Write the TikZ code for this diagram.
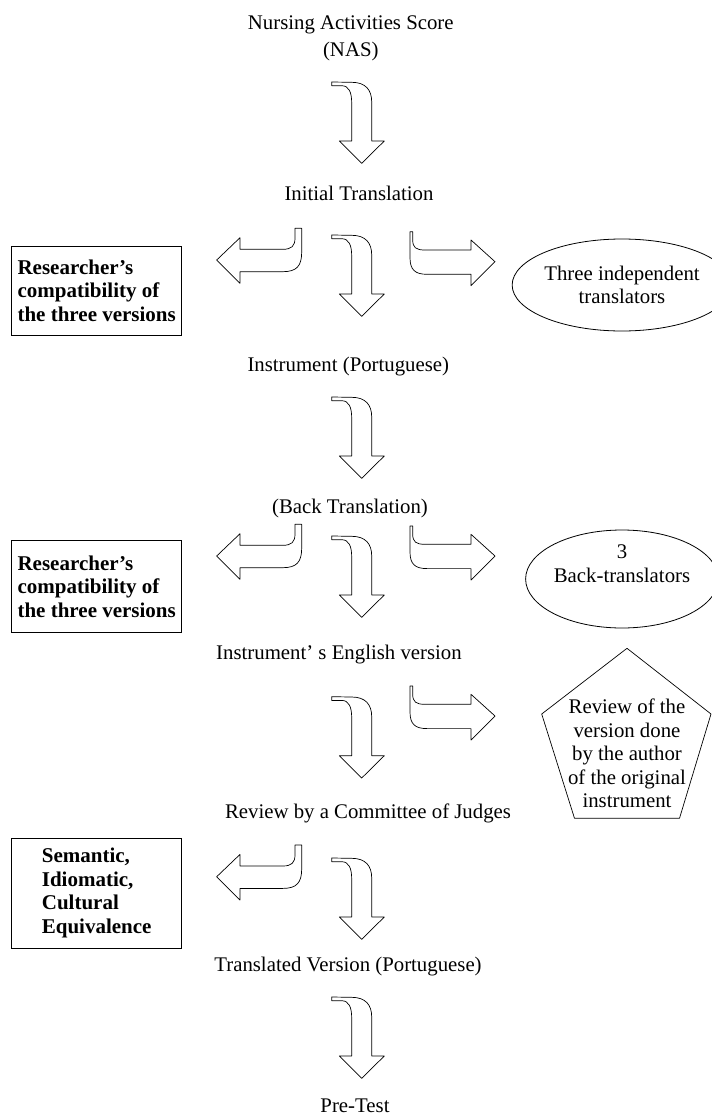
\documentclass[tikz,border=0pt]{standalone}
\usepackage{fontspec}
\setmainfont{Liberation Serif}
\usetikzlibrary{shapes.geometric}
\begin{document}
\begin{tikzpicture}[x=1pt,y=-1pt,
  every node/.style={font=\fontsize{20.8}{23.5}\selectfont, inner sep=0pt},
  lbl/.style={align=center},
  sidebox/.style={draw, line width=0.8pt, minimum width=170pt, align=left, font=\fontsize{21}{23.4}\selectfont\bfseries},
  oval/.style={draw, ellipse, line width=0.8pt, align=center, minimum width=178pt},
  arr/.style={draw, line width=0.7pt, line join=round},
  downarr/.pic={\path[arr] (0,0) -- (20,0.3) .. controls (34,0.3) and (40,8) .. (40,20) -- (40,59) -- (52.6,59) -- (30,81.3) -- (7.6,59) -- (20,59) -- (20,21) .. controls (20,10) and (17,3.7) .. (10,3.7) -- (0,3.7) -- cycle;},
  leftarr/.pic={\path[arr] (0,0) -- (23.3,-22.3) -- (23.3,-10.7) -- (66,-10.7) .. controls (75,-10.7) and (78.3,-14) .. (78.3,-22) -- (78.3,-31.7) -- (85,-31.7) -- (85,-8) .. controls (85,6) and (80,11.7) .. (66,11.7) -- (23.3,11.7) -- (23.3,23.3) -- cycle;},
  rightarr/.pic={\path[arr] (0,0) -- (-24,-21.7) -- (-24,-11.7) -- (-70,-11.7) .. controls (-79,-11.7) and (-82.3,-14) .. (-82.3,-22) -- (-82.3,-30) -- (-85,-30) -- (-85,-4) .. controls (-85,8) and (-80,12.6) .. (-68,12.6) -- (-24,12.6) -- (-24,24) -- cycle;}
]
\useasboundingbox (0,0) rectangle (712,1119);

% main flow texts
\node[lbl, font=\fontsize{20.8}{26.7}\selectfont] (nas) at (350.8,38.3) {Nursing Activities Score\\(NAS)};
\node (init) at (359,193) {Initial Translation};
\node (instr) at (348.3,366.7) {Instrument (Portuguese)};
\node (back) at (350,508) {(Back Translation)};
\node (eng) at (339,655) {Instrument’ s English version};
\node (review) at (368,813) {Review by a Committee of Judges};
\node (transl) at (348,967) {Translated Version (Portuguese)};
\node (pretest) at (355,1106) {Pre-Test};

% side boxes
\node[sidebox, minimum height=89pt] (box1) at (96.7,290.5) {Researcher’s\\compatibility of\\the three versions};
\node[sidebox, minimum height=92pt] (box2) at (96.7,586.5) {Researcher’s\\compatibility of\\the three versions};
\node[sidebox, minimum height=110pt] (box3) at (96.7,893) {Semantic,\\Idiomatic,\\Cultural\\Equivalence};

% ellipses
\node[oval, minimum height=92pt] (ell1) at (622,285) {Three independent\\translators};
\node[oval, minimum height=98pt] (ell2) at (622,579) {3\\Back-translators\\\strut};

% pentagon
\path[arr] (627,648.3) -- (711,714) -- (679.5,818.3) -- (574.5,818.3) -- (541.7,714) -- cycle;
\node[lbl] (pent) at (627,753.4) {Review of the\\version done\\by the author\\of the original\\instrument};

% block arrows
\pic at (331.7,82) {downarr};
\pic at (216.7,260) {leftarr};
\pic at (331.7,235) {downarr};
\pic at (495,261.7) {rightarr};
\pic at (331.7,397) {downarr};
\pic at (216.7,556) {leftarr};
\pic at (331.7,536) {downarr};
\pic at (495,556) {rightarr};
\pic at (331.7,696.7) {downarr};
\pic at (495,716) {rightarr};
\pic at (216.7,876.7) {leftarr};
\pic at (331.7,858) {downarr};
\pic at (331.7,997) {downarr};
\end{tikzpicture}
\end{document}
